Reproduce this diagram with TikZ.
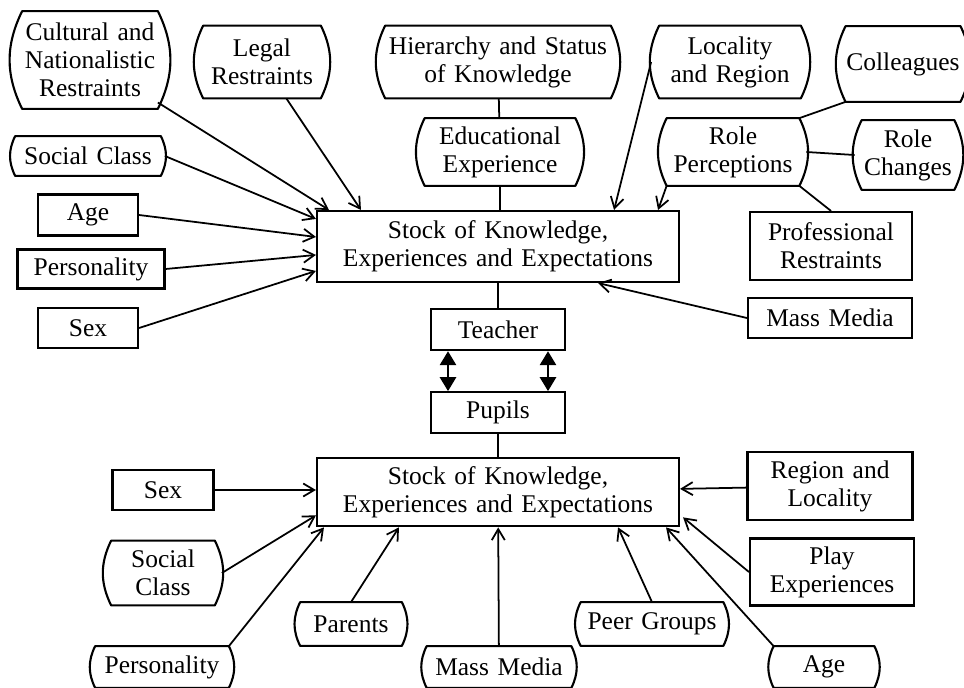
\documentclass[tikz,border=0pt]{standalone}
\usepackage{fontspec}
\setmainfont[WordSpace=1.35]{Liberation Serif}
\usetikzlibrary{positioning,arrows.meta,calc}
\tikzset{
	>={Straight Barb[length=2.2mm,width=2.6mm]}
}

\begin{document}
\begin{tikzpicture}[
x = 0.2mm, y = -0.2mm,
line width = 1pt,
every node/.style = {
	font = \fontsize{14.5}{16}\selectfont,
	align=center,
	inner xsep = 0pt,
	inner ysep = 1pt
},
factor/.style = {
	rectangle,
	draw,
	line width = 1.2pt,
},
% straight top and bottom, bulging sides
softfactor/.style = {
	rectangle,
	append after command = {
		\pgfextra{
			\draw[line width = 1.2pt, line join = round, line cap = round]
				(\tikzlastnode.north west) -- (\tikzlastnode.north east)
				to[bend left=26] (\tikzlastnode.south east) -- (\tikzlastnode.south west)
				to[bend left=26] (\tikzlastnode.north west);
		}
	}
},
dims/.style 2 args = {
	minimum width = #1*0.2mm,
	minimum height = #2*0.2mm
},
twoway/.style = {
	{Triangle[length=2.8mm,width=3.2mm]}-{Triangle[length=2.8mm,width=3.2mm]},
	line width = 1.5pt
}
]
\useasboundingbox (0,0) rectangle (964,688);

% teacher
\node (stockA) [factor, dims={362}{71}] at (498,246.5) {Stock of Knowledge,\\Experiences and Expectations};

\node (cult) [softfactor, dims={134}{96}] at (90,60) {Cultural and\\Nationalistic\\Restraints};
\node (legal) [softfactor, dims={116}{71}] at (262,62) {Legal\\Restraints};
\node (hier) [softfactor, dims={224}{71}] at (498,62) {Hierarchy and Status\\of Knowledge};
\node (local) [softfactor, dims={140}{71}] at (730,62) {Locality\\and Region};
\node (coll) [softfactor, dims={101}{74}] at (903,64) {Colleagues};
\node (educ) [softfactor, dims={149}{66}] at (500,152) {Educational\\Experience};
\node (roleper) [softfactor, dims={131}{66}] at (733,152) {Role\\Perceptions};
\node (rolech) [softfactor, dims={91}{68}] at (908,155) {Role\\Changes};
\node (social) [softfactor, dims={144}{38}] at (88,156) {Social Class};
\node (age) [factor, dims={100}{41}] at (88,215) {Age};
\node (pers) [factor, dims={147}{39}] at (91,269) {Personality};
\node (sex) [factor, dims={100}{40}] at (88,328) {Sex};
\node (prof) [factor, dims={162}{68}] at (831,246) {Professional\\Restraints};
\node (mediaA) [factor, dims={164}{40}] at (830,318) {Mass Media};

\node (teacher) [factor, dims={134}{41}, below = 5mm of stockA] {Teacher};
\node (pupils) [factor, dims={134}{41}, below = 8mm of teacher] {Pupils};

% pupils
\node (stockB) [factor, dims={362}{68}, below = 4.6mm of pupils] {Stock of Knowledge,\\Experiences and Expectations};

\node (sexB) [factor, dims={101}{40}] at (163,490) {Sex};
\node (socialB) [softfactor, dims={102}{63}] at (163,573) {Social\\Class};
\node (persB) [softfactor, dims={132}{40}] at (162,667) {Personality};
\node (parents) [softfactor, dims={100}{42}] at (351,624) {Parents};
\node (mediaB) [softfactor, dims={143}{40}] at (499,667) {Mass Media};
\node (peer) [softfactor, dims={141}{42}] at (652,624) {Peer Groups};
\node (region) [factor, dims={165}{68}] at (830,486) {Region and\\Locality};
\node (play) [factor, dims={164}{67}] at (832,572) {Play\\Experiences};
\node (ageB) [softfactor, dims={99}{40}] at (824,667) {Age};

\draw[->] (cult) -- ($(stockA.north west)+(13,0)$);
\draw[->] (legal) -- ($(stockA.north west)+(45,0)$);
\draw[->] ($(social.east)+(4,0)$) -- ($(stockA.north west)+(0,9)$);
\draw[->] (age.east) -- ($(stockA.north west)+(0,27)$);
\draw[->] (pers.east) -- ($(stockA.north west)+(0,45)$);
\draw[->] (sex.east) -- ($(stockA.north west)+(0,61)$);
\draw (hier) -- (educ);
\draw (educ) -- (educ |- stockA.north);
\draw[->] ($(local.west)+(-8,0)$) -- ($(stockA.north east)+(-66,0)$);
\draw[->] (roleper.south west) -- ($(stockA.north east)+(-22,0)$);
\draw (roleper.north east) -- (coll.south west);
\draw ($(roleper.east)+(7,0)$) -- ($(rolech.west)+(-7,0)$);
\draw (roleper.south east) -- (prof.north);
\draw[->] (mediaA.west) -- ($(stockA.south east)+(-82,0)$);

\draw (stockA) -- (teacher);
\draw[twoway] ($(teacher.south)+(-50,0)$) -- ($(pupils.north)+(-50,0)$);
\draw[twoway] ($(teacher.south)+(50,0)$) -- ($(pupils.north)+(50,0)$);
\draw (pupils) -- (stockB);

\draw[->] (sexB.east) -- (sexB.east -| stockB.west);
\draw[->] ($(socialB.east)+(7,0)$) -- ($(stockB.south west)+(0,-12)$);
\draw[->] (persB.north east) -- ($(stockB.south west)+(8,0)$);
\draw[->] (parents.north) -- ($(stockB.south west)+(83,0)$);
\draw[->] (mediaB) -- (stockB);
\draw[->] (peer.north) -- ($(stockB.south east)+(-62,0)$);
\draw[->] (ageB.north west) -- ($(stockB.south east)+(-14,0)$);
\draw[->] (play.west) -- ($(stockB.south east)+(3,-10)$);
\draw[->] (region) -- (stockB);

\end{tikzpicture}
\end{document}
